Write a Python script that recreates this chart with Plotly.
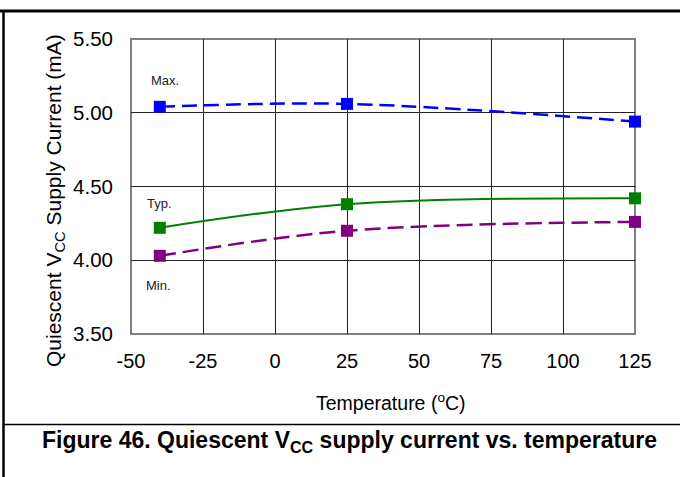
import plotly.graph_objects as go

temperature = [-40, 25, 125]
i_max = [5.04, 5.06, 4.94]
i_typ = [4.22, 4.38, 4.42]
i_min = [4.03, 4.20, 4.26]

x_ticks = [-50, -25, 0, 25, 50, 75, 100, 125]
y_ticks = [3.50, 4.00, 4.50, 5.00, 5.50]

FONT = "Liberation Sans, Arial, sans-serif"

fig = go.Figure()

fig.add_trace(go.Scatter(
    x=temperature, y=i_max, mode="lines+markers", name="Max.", cliponaxis=False,
    line=dict(color="#0000FF", width=2.5, dash="15px,7px", shape="spline", smoothing=1),
    marker=dict(symbol="square", size=12, color="#0000FF")))
fig.add_trace(go.Scatter(
    x=temperature, y=i_typ, mode="lines+markers", name="Typ.", cliponaxis=False,
    line=dict(color="#008000", width=2, shape="spline", smoothing=1),
    marker=dict(symbol="square", size=12, color="#008000")))
fig.add_trace(go.Scatter(
    x=temperature, y=i_min, mode="lines+markers", name="Min.", cliponaxis=False,
    line=dict(color="#800080", width=2.5, dash="16px,7px", shape="spline", smoothing=1),
    marker=dict(symbol="square", size=12, color="#800080")))

L, R, T, B = 131, 45, 39, 143
W, H = 680, 477
pw, ph = W - L - R, H - T - B

def px(x):
    return (x - L) / pw

def py(y):
    return (H - B - y) / ph

shapes = [
    dict(type="rect", xref="paper", yref="paper", x0=0, x1=1, y0=0, y1=1,
         line=dict(color="#7f7f7f", width=2), layer="below"),
    dict(type="line", xref="paper", yref="paper", x0=px(0), x1=px(W), y0=py(11), y1=py(11),
         line=dict(color="black", width=3)),
    dict(type="line", xref="paper", yref="paper", x0=px(3.5), x1=px(3.5), y0=py(10), y1=py(H),
         line=dict(color="black", width=2.5)),
    dict(type="line", xref="paper", yref="paper", x0=px(3.5), x1=px(W), y0=py(424.5), y1=py(424.5),
         line=dict(color="black", width=1.5)),
]

def ann(text, x, y, size, color="black", angle=0):
    return dict(text=text, x=px(x), y=py(y), xref="paper", yref="paper", showarrow=False,
                xanchor="center", yanchor="middle", textangle=angle,
                font=dict(family=FONT, size=size, color=color))

annotations = [
    ann("Max.", 165, 80, 13, "#222"),
    ann("Typ.", 159, 203, 13, "#222"),
    ann("Min.", 158, 285, 13, "#222"),
    ann("Quiescent V<sub>CC</sub> Supply Current (mA)", 55, 201, 21, angle=-90),
    ann("Temperature (<sup>o</sup>C)", 391, 402, 19.5),
    ann("<b>Figure 46. Quiescent V<sub>CC</sub> supply current vs. temperature</b>", 349, 441, 23),
]

fig.update_layout(
    width=W, height=H,
    margin=dict(l=L, r=R, t=T, b=B, pad=0),
    paper_bgcolor="white", plot_bgcolor="white",
    showlegend=False,
    shapes=shapes, annotations=annotations,
    xaxis=dict(range=[-50, 125], tickvals=x_ticks, ticktext=[str(v) for v in x_ticks],
               showgrid=True, gridcolor="#222", gridwidth=1, zeroline=False,
               showline=False, ticks="", ticklabelstandoff=13,
               tickfont=dict(family=FONT, size=20, color="black")),
    yaxis=dict(range=[3.5, 5.5], tickvals=y_ticks, ticktext=[f"{v:.2f}" for v in y_ticks],
               showgrid=True, gridcolor="#222", gridwidth=1, zeroline=False,
               showline=False, ticks="", ticklabelstandoff=17,
               tickfont=dict(family=FONT, size=20.5, color="black")),
)

fig.write_html("out.html", config={"displayModeBar": False},
               post_script="document.body.style.margin='0px';document.body.style.padding='0px';")
